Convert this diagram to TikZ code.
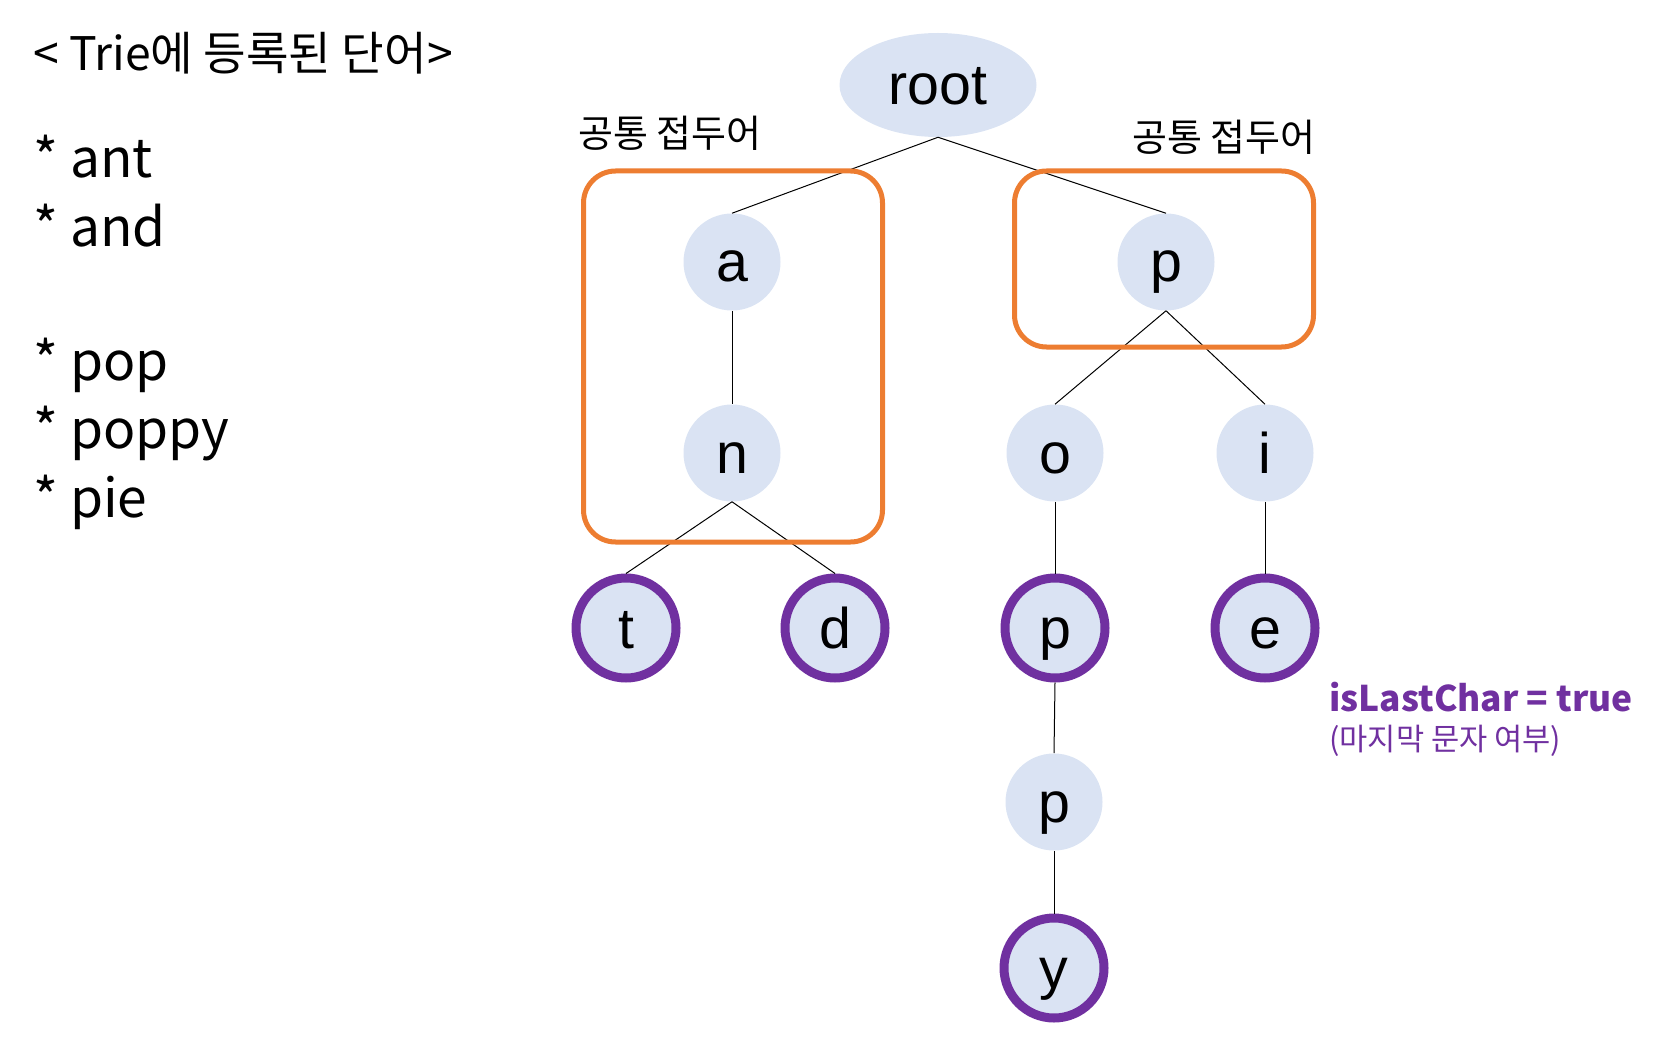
\documentclass[tikz,border=0pt]{standalone}
\usepackage{fontspec}
\setmainfont{Noto Sans CJK KR}
\newfontfamily\nodefont{Liberation Sans}
\usetikzlibrary{shapes.geometric}
\definecolor{nodeblue}{HTML}{DAE3F3}
\definecolor{prefixorange}{HTML}{ED7D31}
\definecolor{lastpurple}{HTML}{7030A0}
\tikzset{
  trienode/.style={circle, fill=nodeblue, minimum size=72.75pt, inner sep=0pt, text height=30pt, text depth=0pt, font=\nodefont\fontsize{43}{50}\selectfont},
  lastnode/.style={trienode, draw=lastpurple, line width=6.75pt, minimum size=75pt},
  rootnode/.style={ellipse, fill=nodeblue, minimum width=147.75pt, minimum height=78pt, inner sep=0pt, text height=29pt, text depth=0pt, font=\nodefont\fontsize{43}{50}\selectfont},
  edge/.style={draw=black, line width=0.75pt},
  prefixbox/.style={draw=prefixorange, line width=3.75pt, rounded corners=24pt, inner sep=0pt},
  listtext/.style={anchor=base west, inner sep=0pt, font=\fontsize{40}{48}\selectfont},
  titletext/.style={anchor=base west, inner sep=0pt, font=\fontsize{34.7}{42}\selectfont},
  prefixlabel/.style={inner sep=0pt, font=\fontsize{28.5}{34}\selectfont},
}
\begin{document}
\begin{tikzpicture}[x=0.75pt, y=-0.75pt]
\useasboundingbox (0,0) rectangle (1669,1055);
% nodes
\node[rootnode] (root) at (938,85) {root};
\node[trienode] (a) at (732,262) {a};
\node[trienode] (n) at (732,453) {n};
\node[lastnode] (t) at (626,628) {t};
\node[lastnode] (d) at (835,628) {d};
\node[trienode] (p1) at (1166,262) {p};
\node[trienode] (o) at (1055,453) {o};
\node[trienode] (i) at (1265,453) {i};
\node[lastnode] (p2) at (1055,628) {p};
\node[lastnode] (e) at (1265,628) {e};
\node[trienode] (p3) at (1054,802) {p};
\node[lastnode] (y) at (1054,968) {y};
% edges
\draw[edge] (root.south) -- (a.north);
\draw[edge] (root.south) -- (p1.north);
\draw[edge] (a.south) -- (n.north);
\draw[edge] (n.south) -- (t.north);
\draw[edge] (n.south) -- (d.north);
\draw[edge] (p1.south) -- (o.north);
\draw[edge] (p1.south) -- (i.north);
\draw[edge] (o.south) -- (p2.north);
\draw[edge] (i.south) -- (e.north);
\draw[edge] (p2.south) -- (p3.north);
\draw[edge] (p3.south) -- (y.north);
% prefix boxes
\node[prefixbox, minimum width=224.25pt, minimum height=278.25pt] (boxL) at (733,356.5) {};
\node[prefixbox, minimum width=224.25pt, minimum height=132pt] (boxR) at (1164,259) {};
\node[prefixlabel] (labL) at (670,133) {공통 접두어};
\node[prefixlabel] (labR) at (1224,137) {공통 접두어};
% left list
\node[titletext] (title) at (33,71) {< Trie에 등록된 단어>};
\node[listtext] (w1) at (33,178) {* ant};
\node[listtext] (w2) at (33,247) {* and};
\node[listtext] (w3) at (33,380) {* pop};
\node[listtext] (w4) at (33,448) {* poppy};
\node[listtext] (w5) at (33,517) {* pie};
% legend
\node[anchor=base west, inner sep=0pt, text=lastpurple, font=\bfseries\fontsize{26.5}{32}\selectfont] (islast) at (1329,711) {isLastChar = true};
\node[anchor=base west, inner sep=0pt, text=lastpurple, font=\fontsize{23}{28}\selectfont] (islastko) at (1329,750) {(마지막 문자 여부)};
\end{tikzpicture}
\end{document}
